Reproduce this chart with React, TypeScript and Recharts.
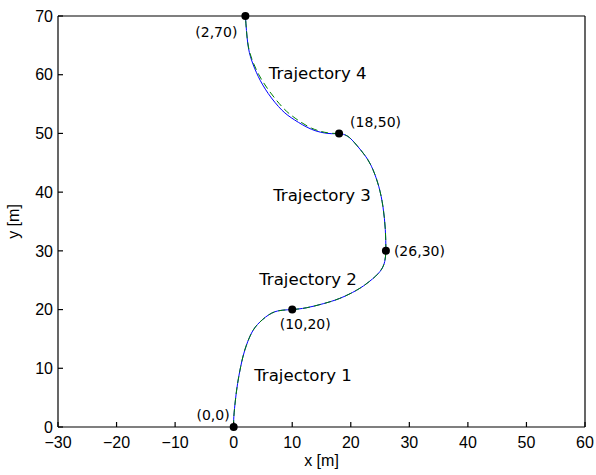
import React from 'react';
import { ComposedChart, Line, Scatter, XAxis, YAxis, Label } from 'recharts';

// Waypoints joined by the four trajectory segments
const waypointX = [0, 10, 26, 18, 2];
const waypointY = [0, 20, 30, 50, 70];
const waypointText = ['(0,0)', '(10,20)', '(26,30)', '(18,50)', '(2,70)'];

// Planned path (solid blue), one array per segment
const traj1 = [
  { x: 0, y: 0 }, { x: 0.03, y: 1.75 }, { x: 0.3, y: 4.6 }, { x: 0.67, y: 7.4 },
  { x: 1.2, y: 10.3 }, { x: 1.9, y: 13.1 }, { x: 3.05, y: 16 }, { x: 4.5, y: 17.9 },
  { x: 6.5, y: 19.4 }, { x: 8.4, y: 19.9 }, { x: 10, y: 20 },
];
const traj2 = [
  { x: 10, y: 20 }, { x: 12.4, y: 20.3 }, { x: 15.3, y: 21 }, { x: 18.1, y: 21.9 },
  { x: 21, y: 23.3 }, { x: 23.2, y: 24.8 }, { x: 25, y: 26.5 }, { x: 25.8, y: 28.2 },
  { x: 26, y: 30 },
];
const traj3 = [
  { x: 26, y: 30 }, { x: 25.9, y: 33.6 }, { x: 25.5, y: 37.5 }, { x: 24.8, y: 40.9 },
  { x: 23.8, y: 43.8 }, { x: 22.6, y: 46 }, { x: 21, y: 48 }, { x: 19.5, y: 49.5 },
  { x: 18, y: 50 },
];
const traj4 = [
  { x: 18, y: 50 }, { x: 16.1, y: 50 }, { x: 13.3, y: 50.7 }, { x: 10.4, y: 52.3 },
  { x: 8.2, y: 54 }, { x: 5.9, y: 56.8 }, { x: 4.2, y: 59.7 }, { x: 3.05, y: 62.5 },
  { x: 2.4, y: 65.4 }, { x: 2, y: 70 },
];
// Tracked path (dashed green), deviates slightly on the last segment
const tracked4 = [
  { x: 18, y: 50 }, { x: 16.1, y: 50.1 }, { x: 13.3, y: 50.9 }, { x: 10.5, y: 52.6 },
  { x: 8.4, y: 54.4 }, { x: 6.1, y: 57.2 }, { x: 4.3, y: 60 }, { x: 3.1, y: 62.7 },
  { x: 2.4, y: 65.5 }, { x: 2, y: 70 },
];

// Segment captions and their anchor points (data units, left edge / vertical middle)
const captionText = ['Trajectory 1', 'Trajectory 2', 'Trajectory 3', 'Trajectory 4'];
const captionX = [3.5, 4.35, 6.74, 6.0];
const captionY = [8.9, 25.4, 39.7, 60.4];

const xTicks = [-30, -20, -10, 0, 10, 20, 30, 40, 50, 60];
const yTicks = [0, 10, 20, 30, 40, 50, 60, 70];

const waypoints = waypointX.map((x, i) => ({ x, y: waypointY[i], text: waypointText[i] }));
const captions = captionX.map((x, i) => ({ x, y: captionY[i], text: captionText[i] }));

// pixel placement of each waypoint label relative to its dot
const waypointLabelPos = [
  { dx: -4, dy: -7, anchor: 'end' },
  { dx: 13, dy: 19.5, anchor: 'middle' },
  { dx: 8, dy: 5, anchor: 'start' },
  { dx: 11, dy: -6.5, anchor: 'start' },
  { dx: -8, dy: 21, anchor: 'end' },
];

const tickFont = { fontFamily: 'Liberation Sans', fontSize: 16, fill: '#000' };
const fmt = (v: number) => (v < 0 ? '\u2212' + Math.abs(v) : String(v));

const WaypointShape = (props: any) => {
  const { cx, cy, index } = props;
  const pos = waypointLabelPos[index] || { dx: 0, dy: 0, anchor: 'start' };
  return (
    <g>
      <circle cx={cx} cy={cy} r={4} fill="#000" />
      <text
        x={cx + pos.dx}
        y={cy + pos.dy}
        textAnchor={pos.anchor as any}
        fontFamily="DejaVu Sans"
        fontSize={14}
        fill="#000"
      >
        {props.payload.text}
      </text>
    </g>
  );
};

const CaptionShape = (props: any) => {
  const { cx, cy } = props;
  return (
    <text x={cx} y={cy} dy="0.4em" textAnchor="start" fontFamily="DejaVu Sans" fontSize={16.6} fill="#000">
      {props.payload.text}
    </text>
  );
};

export default function App() {
  return (
    <div style={{ position: 'absolute', left: 0, top: 0, background: '#fff' }}>
      <ComposedChart width={596} height={475} margin={{ top: 15, right: 10, bottom: 0, left: 0 }}>
        <XAxis
          xAxisId="b"
          dataKey="x"
          type="number"
          domain={[-30, 60]}
          ticks={xTicks}
          tickFormatter={fmt}
          height={48}
          tick={tickFont}
          tickSize={-5}
          tickMargin={15}
          stroke="#000"
          strokeWidth={1.2}
          axisLine
          tickLine
        >
          <Label value="x [m]" position="insideBottom" offset={9} style={{ fontFamily: 'Liberation Sans', fontSize: 16, fill: '#000' }} />
        </XAxis>
        <XAxis
          xAxisId="t"
          orientation="top"
          type="number"
          domain={[-30, 60]}
          ticks={xTicks}
          height={1}
          tick={false}
          tickSize={-5}
          stroke="#000"
          strokeWidth={1.2}
          axisLine
          tickLine
        />
        <YAxis
          yAxisId="l"
          dataKey="y"
          type="number"
          domain={[0, 70]}
          ticks={yTicks}
          width={58}
          tick={tickFont}
          tickSize={-5}
          tickMargin={10}
          stroke="#000"
          strokeWidth={1.2}
          axisLine
          tickLine
        >
          <Label value="y [m]" position="insideLeft" angle={-90} offset={13} style={{ fontFamily: 'Liberation Sans', fontSize: 16, fill: '#000', textAnchor: 'middle' }} />
        </YAxis>
        <YAxis
          yAxisId="r"
          orientation="right"
          type="number"
          domain={[0, 70]}
          ticks={yTicks}
          width={1}
          tick={false}
          tickSize={-5}
          stroke="#000"
          strokeWidth={1.2}
          axisLine
          tickLine
        />
        {[traj1, traj2, traj3, traj4].map((seg, i) => (
          <Line
            key={'p' + i}
            xAxisId="b"
            yAxisId="l"
            data={seg}
            dataKey="y"
            type="natural"
            stroke="#0000ff"
            strokeWidth={1}
            dot={false}
            activeDot={false}
            isAnimationActive={false}
          />
        ))}
        {[traj1, traj2, traj3, tracked4].map((seg, i) => (
          <Line
            key={'t' + i}
            xAxisId="b"
            yAxisId="l"
            data={seg}
            dataKey="y"
            type="natural"
            stroke="#008000"
            strokeWidth={1}
            strokeDasharray="7 4"
            dot={false}
            activeDot={false}
            isAnimationActive={false}
          />
        ))}
        <Scatter xAxisId="b" yAxisId="l" data={captions} dataKey="y" shape={CaptionShape} isAnimationActive={false} />
        <Scatter xAxisId="b" yAxisId="l" data={waypoints} dataKey="y" shape={WaypointShape} isAnimationActive={false} />
      </ComposedChart>
    </div>
  );
}
